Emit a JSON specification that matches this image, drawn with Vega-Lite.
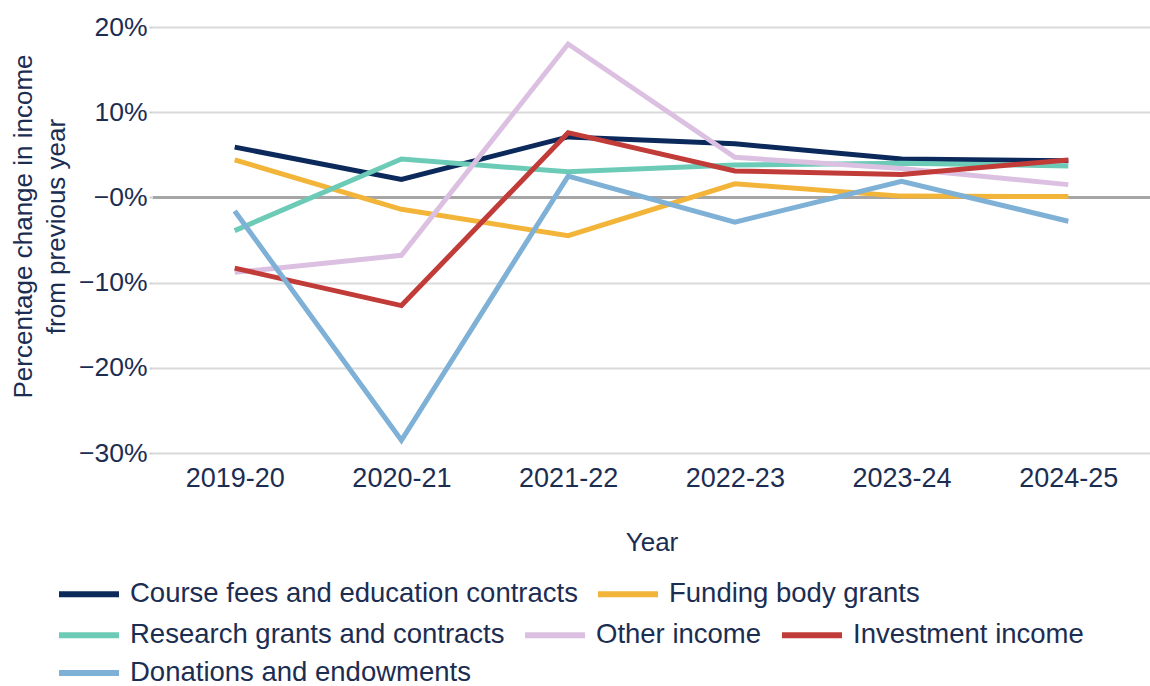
{
  "$schema": "https://vega.github.io/schema/vega-lite/v6.json",
  "width": 997,
  "height": 426,
  "autosize": "none",
  "padding": {"left": 153, "top": 27, "right": 0, "bottom": 233},
  "config": {
    "font": "Liberation Sans",
    "view": {"stroke": null},
    "axis": {"labelColor": "#1c2d52", "titleColor": "#1c2d52", "labelFont": "Liberation Sans", "titleFont": "Liberation Sans", "titleFontWeight": "normal"},
    "legend": {
      "labelFont": "Liberation Sans",
      "labelFontSize": 27.5,
      "labelColor": "#1c2d52",
      "symbolType": "stroke",
      "symbolStrokeWidth": 6,
      "symbolSize": 3600,
      "labelOffset": 8,
      "columnPadding": 8,
      "labelLimit": 1000
    }
  },
  "datasets": {
    "income": [
      {"year": "2019-20", "series": "Course fees and education contracts", "value": 0.059},
      {"year": "2020-21", "series": "Course fees and education contracts", "value": 0.021},
      {"year": "2021-22", "series": "Course fees and education contracts", "value": 0.071},
      {"year": "2022-23", "series": "Course fees and education contracts", "value": 0.063},
      {"year": "2023-24", "series": "Course fees and education contracts", "value": 0.045},
      {"year": "2024-25", "series": "Course fees and education contracts", "value": 0.043},
      {"year": "2019-20", "series": "Funding body grants", "value": 0.044},
      {"year": "2020-21", "series": "Funding body grants", "value": -0.014},
      {"year": "2021-22", "series": "Funding body grants", "value": -0.045},
      {"year": "2022-23", "series": "Funding body grants", "value": 0.016},
      {"year": "2023-24", "series": "Funding body grants", "value": 0.0015},
      {"year": "2024-25", "series": "Funding body grants", "value": 0.001},
      {"year": "2019-20", "series": "Research grants and contracts", "value": -0.039},
      {"year": "2020-21", "series": "Research grants and contracts", "value": 0.045},
      {"year": "2021-22", "series": "Research grants and contracts", "value": 0.030},
      {"year": "2022-23", "series": "Research grants and contracts", "value": 0.038},
      {"year": "2023-24", "series": "Research grants and contracts", "value": 0.040},
      {"year": "2024-25", "series": "Research grants and contracts", "value": 0.037},
      {"year": "2019-20", "series": "Other income", "value": -0.088},
      {"year": "2020-21", "series": "Other income", "value": -0.068},
      {"year": "2021-22", "series": "Other income", "value": 0.180},
      {"year": "2022-23", "series": "Other income", "value": 0.047},
      {"year": "2023-24", "series": "Other income", "value": 0.034},
      {"year": "2024-25", "series": "Other income", "value": 0.015},
      {"year": "2019-20", "series": "Investment income", "value": -0.083},
      {"year": "2020-21", "series": "Investment income", "value": -0.127},
      {"year": "2021-22", "series": "Investment income", "value": 0.076},
      {"year": "2022-23", "series": "Investment income", "value": 0.031},
      {"year": "2023-24", "series": "Investment income", "value": 0.027},
      {"year": "2024-25", "series": "Investment income", "value": 0.044},
      {"year": "2019-20", "series": "Donations and endowments", "value": -0.016},
      {"year": "2020-21", "series": "Donations and endowments", "value": -0.285},
      {"year": "2021-22", "series": "Donations and endowments", "value": 0.025},
      {"year": "2022-23", "series": "Donations and endowments", "value": -0.029},
      {"year": "2023-24", "series": "Donations and endowments", "value": 0.019},
      {"year": "2024-25", "series": "Donations and endowments", "value": -0.028}
    ],
    "zero": [{"value": 0}]
  },
  "encoding": {
    "x": {
      "field": "year",
      "type": "ordinal",
      "scale": {"type": "point", "padding": 0.49, "domain": ["2019-20", "2020-21", "2021-22", "2022-23", "2023-24", "2024-25"]},
      "axis": {"title": "Year", "labelAngle": 0, "labelFontSize": 27, "titleFontSize": 26, "labelPadding": 12, "titlePadding": 38, "ticks": false, "domain": false, "grid": false}
    },
    "y": {
      "field": "value", "type": "quantitative",
      "scale": {"domain": [-0.3, 0.2], "nice": false},
      "axis": {
        "title": ["Percentage change in income", "from previous year"],
        "titleFontSize": 26, "titleLineHeight": 33, "titleAngle": -90, "titleAlign": "center", "titleBaseline": "top",
        "titleX": -143, "titleY": 199,
        "labelFontSize": 26.5, "values": [-0.3, -0.2, -0.1, 0, 0.1, 0.2],
        "labelExpr": "datum.value > 0 ? format(datum.value, '.0%') : '\u2212' + format(abs(datum.value), '.0%')",
        "grid": true, "gridColor": "#d9d9d9", "gridWidth": 2,
        "ticks": true, "tickSize": 4, "tickColor": "#d0d0d0", "tickWidth": 2,
        "domain": false, "labelPadding": 2
      }
    }
  },
  "layer": [
    {
      "data": {"name": "zero"},
      "mark": {"type": "rule", "color": "#a6a6a6", "strokeWidth": 3},
      "encoding": {"x": null}
    },
    {
      "data": {"name": "income"},
      "transform": [{"filter": "datum.series === 'Course fees and education contracts' || datum.series === 'Funding body grants'"}],
      "mark": {"type": "line", "strokeWidth": 5},
      "encoding": {
        "color": {
          "field": "series", "type": "nominal",
          "scale": {"domain": ["Course fees and education contracts", "Funding body grants"], "range": ["#0b2a5b", "#f2b53a"]},
          "legend": {"title": null, "orient": "none", "direction": "horizontal", "legendX": -97, "legendY": 534}
        }
      }
    },
    {
      "data": {"name": "income"},
      "transform": [{"filter": "datum.series === 'Research grants and contracts' || datum.series === 'Other income' || datum.series === 'Investment income'"}],
      "mark": {"type": "line", "strokeWidth": 5},
      "encoding": {
        "color": {
          "field": "series", "type": "nominal",
          "scale": {"domain": ["Research grants and contracts", "Other income", "Investment income"], "range": ["#6ccbb7", "#dcc0e2", "#c13b38"]},
          "legend": {"title": null, "orient": "none", "direction": "horizontal", "legendX": -97, "legendY": 575}
        }
      }
    },
    {
      "data": {"name": "income"},
      "transform": [{"filter": "datum.series === 'Donations and endowments'"}],
      "mark": {"type": "line", "strokeWidth": 5},
      "encoding": {
        "color": {
          "field": "series", "type": "nominal",
          "scale": {"domain": ["Donations and endowments"], "range": ["#7fb0d5"]},
          "legend": {"title": null, "orient": "none", "direction": "horizontal", "legendX": -97, "legendY": 613}
        }
      }
    }
  ],
  "resolve": {"scale": {"color": "independent"}, "legend": {"color": "independent"}}
}
